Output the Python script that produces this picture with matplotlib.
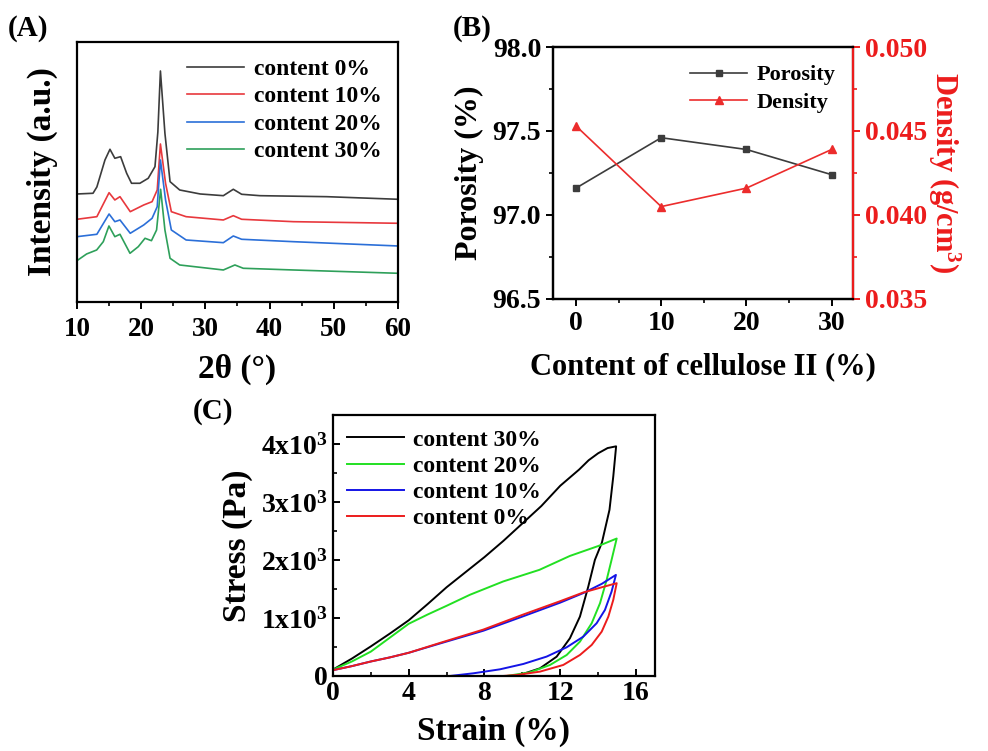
import numpy as np
import matplotlib
matplotlib.use("Agg")
import matplotlib.pyplot as plt
from matplotlib.ticker import MultipleLocator, FuncFormatter

plt.rcParams["font.family"] = ["Liberation Serif", "DejaVu Serif"]
plt.rcParams["font.weight"] = "bold"
plt.rcParams["axes.labelweight"] = "bold"
plt.rcParams["mathtext.fontset"] = "custom"
plt.rcParams["mathtext.rm"] = "Liberation Serif:bold"
plt.rcParams["mathtext.it"] = "Liberation Serif:bold"
plt.rcParams["mathtext.bf"] = "Liberation Serif:bold"
plt.rcParams["axes.linewidth"] = 1.6

# ---- (A) XRD patterns (arbitrary intensity, stacked) ----
xrd_labels = ["content 0%", "content 10%", "content 20%", "content 30%"]
xrd_colors = ["#3c3c3c", "#e8383d", "#2b6fd8", "#2ea05a"]
tt_0 = [10, 12.5, 13.1, 14.36, 15.14, 15.9, 16.8, 17.74, 18.5, 19.8, 21.1, 22.15, 22.6, 23.0, 23.7, 24.5, 26.0, 29.2, 32.8, 34.35, 35.65, 38.5, 48.9, 60]
int_0 = [108, 108.7, 115, 142, 152.7, 143.7, 145.3, 128.7, 118.7, 118.7, 123.7, 135.3, 170, 231, 168.7, 120.3, 112, 108, 106.3, 112.7, 107.7, 106.3, 105.3, 102.7]
tt_10 = [10, 13.1, 15.0, 15.9, 16.7, 18.3, 20.4, 21.7, 22.5, 23.0, 23.8, 24.7, 27.0, 32.8, 34.35, 35.65, 43.7, 60]
int_10 = [82.7, 85.3, 109.3, 102, 105.3, 90.3, 97, 100.3, 112, 158, 118.7, 90.3, 85.3, 82, 86.3, 82.7, 80.3, 78.7]
tt_20 = [10, 13.1, 15.0, 15.9, 16.7, 18.3, 20.4, 21.7, 22.5, 23.0, 23.8, 24.7, 27.0, 32.8, 34.35, 35.65, 43.7, 60]
int_20 = [65.3, 67.7, 88, 80.3, 82, 68.7, 77, 83.7, 95.3, 142, 102, 72, 62, 59.3, 66, 62.7, 60.3, 56]
tt_30 = [10, 11.5, 13.07, 14.1, 14.98, 15.9, 16.7, 18.26, 19.55, 20.6, 21.6, 22.4, 23.03, 23.7, 24.5, 26.0, 32.8, 34.6, 35.9, 43.7, 60]
int_30 = [41.3, 48, 52, 60.3, 76, 65.3, 67.7, 48.7, 55.3, 63.7, 61.3, 72, 112.7, 72, 43.7, 37, 32, 37, 33.7, 32, 28.7]

# ---- (B) porosity and density ----
content = [0, 10, 20, 30]
porosity = [97.16, 97.46, 97.39, 97.24]
density = [0.0453, 0.0405, 0.0416, 0.0439]

# ---- (C) compression loading/unloading loops ----
cyc_labels = ["content 30%", "content 20%", "content 10%", "content 0%"]
cyc_colors = ["#000000", "#22e022", "#1414e6", "#ec1c1c"]
strain_30 = [0, 1, 2, 3, 4, 5, 6, 7, 8, 9, 10, 11, 12, 13, 13.5, 14, 14.5, 14.95,
             14.8, 14.6, 14.2, 13.83, 13.48, 13.04, 12.51, 11.81, 10.93, 9.7]
stress_30 = [110, 300, 510, 730, 960, 1240, 1530, 1790, 2050, 2330, 2630, 2930, 3280, 3560, 3720, 3840, 3930, 3960,
             3440, 2865, 2300, 2002, 1541, 1024, 650, 333, 132, 0]
strain_20 = [0, 1, 2, 3, 4, 5, 6, 7.23, 8.99, 10.9, 12.51, 14.0, 14.98,
             14.71, 14.45, 14.10, 13.66, 13.04, 12.34, 11.46, 10.4, 9.17]
stress_20 = [110, 250, 420, 660, 900, 1060, 1210, 1400, 1630, 1830, 2070, 2240, 2370,
             2002, 1657, 1255, 909, 592, 362, 190, 63, 0]
strain_10 = [0, 1, 2, 3, 4, 5.65, 7.94, 10.05, 12.0, 13.22, 14.2, 14.94,
             14.71, 14.36, 13.92, 13.22, 12.34, 11.28, 10.05, 8.82, 7.41, 6.18]
stress_10 = [100, 170, 250, 320, 400, 560, 780, 1030, 1265, 1430, 1590, 1743,
             1455, 1139, 909, 679, 495, 334, 207, 115, 46, 0]
strain_0 = [0, 1, 2, 3, 4, 5.65, 7.94, 10.05, 12.0, 13.22, 14.2, 14.98,
            14.8, 14.54, 14.19, 13.66, 13.04, 12.16, 10.93, 9.7, 8.99]
stress_0 = [100, 170, 250, 320, 400, 570, 800, 1060, 1290, 1440, 1530, 1600,
            1312, 1024, 765, 535, 362, 190, 75, 17, 0]

fig = plt.figure(figsize=(9.88, 7.51), dpi=100)

# ---------------- panel A ----------------
axA = fig.add_axes([0.0779, 0.5979, 0.3249, 0.3462])
for tt, it, c, lab in zip([tt_0, tt_10, tt_20, tt_30], [int_0, int_10, int_20, int_30], xrd_colors, xrd_labels):
    axA.plot(tt, it, color=c, lw=1.2, label=lab)
axA.set_xlim(10, 60)
axA.set_ylim(0, 260)
axA.set_yticks([])
axA.xaxis.set_major_locator(MultipleLocator(10))
axA.xaxis.set_minor_locator(MultipleLocator(5))
axA.tick_params(axis="x", which="major", direction="out", length=5, width=1.4, labelsize=19.5, pad=6)
axA.tick_params(axis="x", which="minor", direction="out", length=3, width=1.2)
axA.set_xlabel("2θ (°)", fontsize=24, labelpad=8)
axA.set_ylabel("Intensity (a.u.)", fontsize=24, labelpad=14)
axA.legend(loc="upper right", frameon=False, fontsize=17, handlelength=2.4, handletextpad=0.4,
           labelspacing=0.25, borderaxespad=0.3, bbox_to_anchor=(1.0, 1.0))
fig.text(0.008, 0.962, "(A)", fontsize=21, ha="left", va="center")

# ---------------- panel B ----------------
axB = fig.add_axes([0.5597, 0.6019, 0.3036, 0.3355])
lp, = axB.plot(content, porosity, color="#3c3c3c", lw=1.2, marker="s", ms=5, label="Porosity")
axB2 = axB.twinx()
ld, = axB2.plot(content, density, color="#ec2c2c", lw=1.2, marker="^", ms=6, label="Density")
axB.set_xlim(-2.7, 32.5)
axB.set_ylim(96.5, 98.0)
axB2.set_ylim(0.035, 0.050)
axB.set_xticks(content)
axB.xaxis.set_minor_locator(MultipleLocator(5))
axB.yaxis.set_major_locator(MultipleLocator(0.5))
axB.yaxis.set_minor_locator(MultipleLocator(0.25))
axB.yaxis.set_major_formatter(FuncFormatter(lambda v, p: f"{v:.1f}"))
axB2.yaxis.set_major_locator(MultipleLocator(0.005))
axB2.yaxis.set_minor_locator(MultipleLocator(0.0025))
axB2.yaxis.set_major_formatter(FuncFormatter(lambda v, p: f"{v:.3f}"))
axB.tick_params(which="major", direction="out", length=5, width=1.4, labelsize=20)
axB.tick_params(which="minor", direction="out", length=3, width=1.2)
axB2.tick_params(which="major", direction="out", length=5, width=1.4, labelsize=20, colors="#ec1c1c")
axB2.tick_params(which="minor", direction="out", length=3, width=1.2, colors="#ec1c1c")
axB2.spines["right"].set_color("#ec1c1c")
axB.set_xlabel("Content of cellulose II (%)", fontsize=22, labelpad=12)
axB.set_ylabel("Porosity (%)", fontsize=23, labelpad=6)
axB2.set_ylabel("Density (g/cm$^3$)", fontsize=22, color="#ec1c1c", rotation=270, labelpad=25)
axB.legend([lp, ld], ["Porosity", "Density"], loc="upper right", frameon=False, fontsize=16,
           handlelength=2.6, handletextpad=0.4, labelspacing=0.3, borderaxespad=0.4)
fig.text(0.458, 0.962, "(B)", fontsize=21, ha="left", va="center")

# ---------------- panel C ----------------
axC = fig.add_axes([0.3370, 0.0999, 0.3259, 0.3475])
for sx, sy, c, lab in zip([strain_30, strain_20, strain_10, strain_0], [stress_30, stress_20, stress_10, stress_0],
                          cyc_colors, cyc_labels):
    axC.plot(sx, sy, color=c, lw=1.4, label=lab)
axC.set_xlim(0, 17)
axC.set_ylim(0, 4500)
axC.xaxis.set_major_locator(MultipleLocator(4))
axC.xaxis.set_minor_locator(MultipleLocator(2))
axC.yaxis.set_major_locator(MultipleLocator(1000))
axC.yaxis.set_minor_locator(MultipleLocator(500))


def stress_fmt(v, p):
    if v == 0:
        return "0"
    return f"{int(round(v / 1000))}x10$^3$"


axC.yaxis.set_major_formatter(FuncFormatter(stress_fmt))
axC.tick_params(which="major", direction="in", length=5, width=1.4, labelsize=20)
axC.tick_params(which="minor", direction="in", length=3, width=1.2)
axC.set_xlabel("Strain (%)", fontsize=24, labelpad=7)
axC.set_ylabel("Stress (Pa)", fontsize=24, labelpad=6)
axC.legend(loc="upper left", frameon=False, fontsize=17, handlelength=2.4, handletextpad=0.4,
           labelspacing=0.2, borderaxespad=0.2)
fig.text(0.195, 0.452, "(C)", fontsize=21, ha="left", va="center")

fig.savefig("out.png", dpi=100)
